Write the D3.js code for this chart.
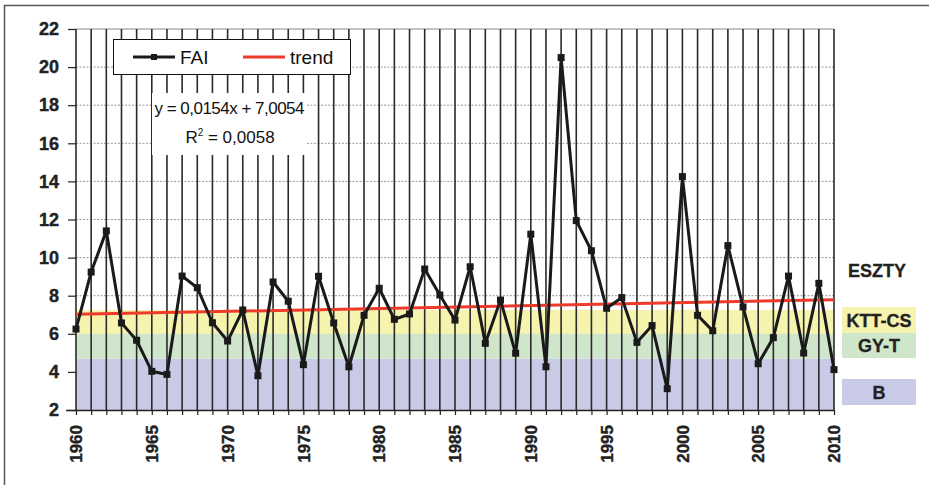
<!DOCTYPE html>
<html>
<head>
<meta charset="utf-8">
<script src="https://cdn.jsdelivr.net/npm/d3@7"></script>
<style>
  body { margin: 0; background: #fff; }
  text { font-family: "Liberation Sans", Arial, sans-serif; }
</style>
</head>
<body>
<script>
const years = d3.range(1960, 2011);
const fai = [6.25, 9.24, 11.4, 6.57, 5.66, 4.03, 3.87, 9.03, 8.42, 6.58,
  5.62, 7.25, 3.8, 8.72, 7.71, 4.38, 9.02, 6.57, 4.27, 6.97,
  8.39, 6.76, 7.04, 9.4, 8.04, 6.72, 9.52, 5.5, 7.77, 4.98,
  11.23, 4.27, 20.5, 11.94, 10.36, 7.34, 7.9, 5.55, 6.43, 3.12,
  14.25, 6.97, 6.16, 10.63, 7.41, 4.43, 5.8, 9.03, 4.99, 8.65, 4.12];
const trendSlope = 0.0154;
const trendIntercept = 7.0054;
const yTicks = [2, 4, 6, 8, 10, 12, 14, 16, 18, 20, 22];
const xTicks = [1960, 1965, 1970, 1975, 1980, 1985, 1990, 1995, 2000, 2005, 2010];
const bands = [
  { name: "B", from: 2, to: 4.7, color: "#c9cae6" },
  { name: "GY-T", from: 4.7, to: 6.0, color: "#cfe6cb" },
  { name: "KTT-CS", from: 6.0, to: 7.25, color: "#f5f3ad" }
];

const w = 929, h = 485;
const pLeft = 76, pRight = 834, pTop = 29, pBottom = 410;

const svg = d3.select('body').append('svg')
  .attr('width', w).attr('height', h);

// outer frame
svg.append('path')
  .attr('d', `M4.5,${h} V5.5 H${w}`)
  .attr('fill', 'none').attr('stroke', '#555').attr('stroke-width', 1.5);

const x = d3.scaleLinear().domain([1960, 2010]).range([pLeft, pRight]);
const y = d3.scaleLinear().domain([2, 22]).range([pBottom, pTop]);

// horizontal dotted grid
svg.append('g').selectAll('line')
  .data(yTicks.slice(1, -1))
  .enter().append('line')
  .attr('x1', pLeft).attr('x2', pRight)
  .attr('y1', d => y(d)).attr('y2', d => y(d))
  .attr('stroke', '#999').attr('stroke-dasharray', '2,1.5');

// top border line
svg.append('line')
  .attr('x1', pLeft).attr('x2', pRight)
  .attr('y1', y(22)).attr('y2', y(22))
  .attr('stroke', '#888').attr('stroke-width', 1);

// coloured bands
svg.append('g').selectAll('rect')
  .data(bands)
  .enter().append('rect')
  .attr('x', pLeft).attr('width', pRight - pLeft)
  .attr('y', d => y(d.to)).attr('height', d => y(d.from) - y(d.to))
  .attr('fill', d => d.color);

// vertical year lines
svg.append('g').selectAll('line')
  .data(years)
  .enter().append('line')
  .attr('x1', d => x(d)).attr('x2', d => x(d))
  .attr('y1', pTop).attr('y2', pBottom)
  .attr('stroke', '#2a2a2a').attr('stroke-width', 1.6);

// legend box
const lg = svg.append('g');
lg.append('rect').attr('x', 113.5).attr('y', 39.5).attr('width', 237).attr('height', 35)
  .attr('fill', '#fff').attr('stroke', '#111');
lg.append('line').attr('x1', 133).attr('x2', 175).attr('y1', 57).attr('y2', 57)
  .attr('stroke', '#1a1a1a').attr('stroke-width', 3);
lg.append('rect').attr('x', 151).attr('y', 54).attr('width', 6).attr('height', 6).attr('fill', '#1a1a1a');
lg.append('text').attr('x', 180).attr('y', 64).attr('font-size', 19).attr('fill', '#111').text('FAI');
lg.append('line').attr('x1', 243).attr('x2', 285).attr('y1', 57).attr('y2', 57)
  .attr('stroke', '#ee3a2a').attr('stroke-width', 3);
lg.append('text').attr('x', 290).attr('y', 64).attr('font-size', 19).attr('fill', '#111').text('trend');

// equation box
const eq = svg.append('g');
eq.append('rect').attr('x', 152).attr('y', 93).attr('width', 155).attr('height', 62).attr('fill', '#fff');
eq.append('text').attr('x', 229.5).attr('y', 114).attr('text-anchor', 'middle')
  .attr('font-size', 17).attr('fill', '#111').attr('textLength', 150)
  .text('y = 0,0154x + 7,0054');
const r2 = eq.append('text').attr('x', 230).attr('y', 143).attr('text-anchor', 'middle')
  .attr('font-size', 17).attr('fill', '#111');
r2.append('tspan').text('R');
r2.append('tspan').attr('font-size', 10).attr('dy', -7).text('2');
r2.append('tspan').attr('dy', 7).text(' = 0,0058');

// trend line
svg.append('line')
  .attr('x1', x(1960)).attr('x2', x(2010))
  .attr('y1', y(trendSlope * 1 + trendIntercept))
  .attr('y2', y(trendSlope * years.length + trendIntercept))
  .attr('stroke', '#ee3a2a').attr('stroke-width', 3);

// FAI series
const line = d3.line().x((d, i) => x(years[i])).y(d => y(d));
svg.append('path').datum(fai)
  .attr('d', line).attr('fill', 'none')
  .attr('stroke', '#1a1a1a').attr('stroke-width', 3).attr('stroke-linejoin', 'miter');
svg.append('g').selectAll('rect')
  .data(fai)
  .enter().append('rect')
  .attr('x', (d, i) => x(years[i]) - 3.5).attr('y', d => y(d) - 3.5)
  .attr('width', 7).attr('height', 7).attr('fill', '#1a1a1a');

// axes
const yAxis = d3.axisLeft(y).tickValues(yTicks).tickSize(8).tickPadding(9);
const gy = svg.append('g').attr('transform', 'translate(' + pLeft + ',0)').call(yAxis);
gy.select('.domain').remove();
gy.selectAll('line').attr('stroke', '#222').attr('stroke-width', 1.2);
gy.selectAll('text').attr('font-size', 18).attr('font-weight', 'bold').attr('fill', '#222')
  .attr('stroke', '#222').attr('stroke-width', 0.4);

const xAxis = d3.axisBottom(x).tickValues(years).tickSize(5).tickFormat('');
const gx = svg.append('g').attr('transform', 'translate(0,' + pBottom + ')').call(xAxis);
gx.select('.domain').attr('d', `M${pLeft - 10},0.5H${pRight}`).attr('stroke', '#222').attr('stroke-width', 1.6);
gx.selectAll('line').attr('stroke', '#222').attr('stroke-width', 1.2);

svg.append('g').selectAll('text')
  .data(xTicks)
  .enter().append('text')
  .attr('transform', d => 'translate(' + x(d) + ',' + (pBottom + 15) + ') rotate(-90)')
  .attr('text-anchor', 'end').attr('dy', '0.36em')
  .attr('font-size', 17).attr('font-weight', 'bold').attr('fill', '#222')
  .attr('stroke', '#222').attr('stroke-width', 0.4)
  .text(d => d);

// right-hand category labels
const lab = svg.append('g');
lab.append('text').attr('x', 877).attr('y', 277).attr('text-anchor', 'middle')
  .attr('font-size', 18).attr('font-weight', 'bold').attr('fill', '#222')
  .attr('stroke', '#222').attr('stroke-width', 0.3).text('ESZTY');
const boxes = [
  { name: 'KTT-CS', y0: 307, y1: 333, color: bands[2].color },
  { name: 'GY-T', y0: 333, y1: 358, color: bands[1].color },
  { name: 'B', y0: 379, y1: 405, color: bands[0].color }
];
boxes.forEach(b => {
  lab.append('rect').attr('x', 842).attr('y', b.y0).attr('width', 74).attr('height', b.y1 - b.y0).attr('fill', b.color);
  lab.append('text').attr('x', 879).attr('y', (b.y0 + b.y1) / 2 + 6.5).attr('text-anchor', 'middle')
    .attr('font-size', 18).attr('font-weight', 'bold').attr('fill', '#222')
    .attr('stroke', '#222').attr('stroke-width', 0.3).text(b.name);
});
</script>
</body>
</html>
